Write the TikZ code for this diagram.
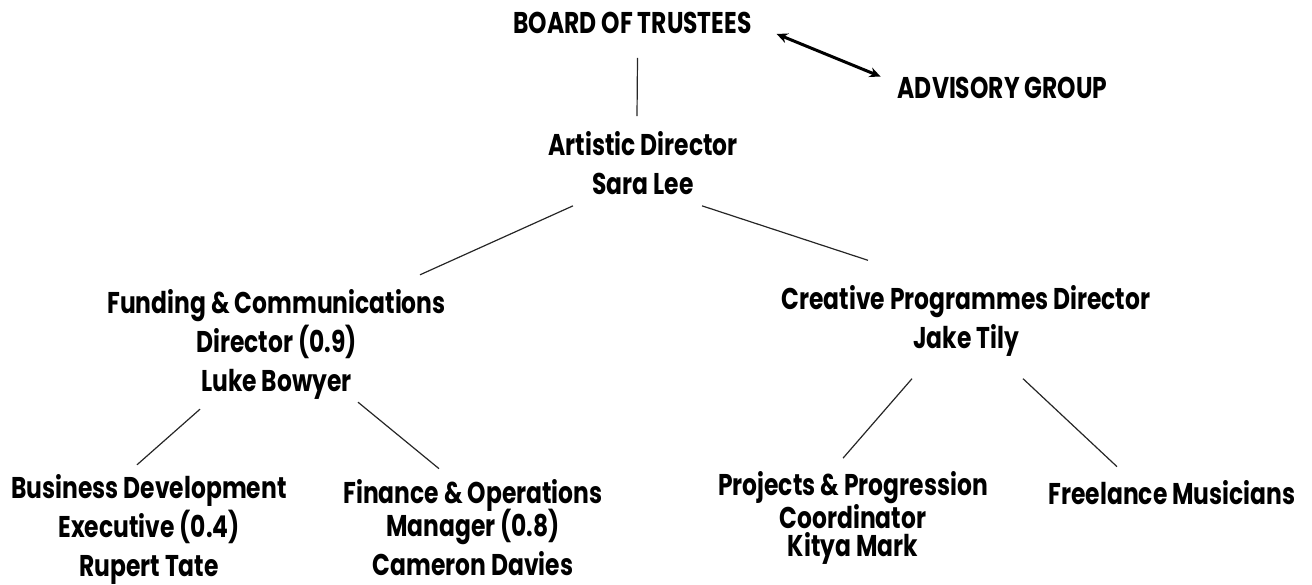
\documentclass[tikz,border=0pt]{standalone}
\usepackage{fontspec}
\setmainfont{Poppins}[FakeStretch=0.78]
\usetikzlibrary{arrows.meta}
\tikzset{
  box/.style={draw=none,inner sep=0pt,align=center,font=\bfseries\fontsize{30}{39}\selectfont},
  link/.style={-,line width=1.2pt,draw=black!85},
  twoway/.style={{Stealth[length=11pt,width=10pt]}-{Stealth[length=11pt,width=10pt]},line width=3pt}
}
\begin{document}
\begin{tikzpicture}[x=1pt,y=1pt]
\useasboundingbox (0,0) rectangle (1312,-585);
% \draw[help lines] (0,0) grid (1312,-585);
\node (board) [box] at (632.5,-23) {BOARD OF TRUSTEES};
\node (adv) [box] at (1002.5,-87.5) {ADVISORY GROUP};
\node (art) [box] at (643,-163) {Artistic Director\\Sara Lee};
\node (fund) [box] at (276.5,-344) {Funding \& Communications\\Director (0.9)\\Luke Bowyer};
\node (cre) [box] at (966,-321) {Creative Programmes Director\\Jake Tily};
\node (bus) [box] at (149,-529) {Business Development\\Executive (0.4)\\Rupert Tate};
\node (fin) [box] at (473,-528) {Finance \& Operations\\[-6pt]Manager (0.8)\\Cameron Davies};
\node (proj) [box,font=\bfseries\fontsize{30}{28}\selectfont] at (853,-518) {Projects \& Progression\\Coordinator\\Kitya Mark};
\node (free) [box] at (1172,-493) {Freelance Musicians};
%
\path[twoway] ([xshift=25pt]board.south east) edge ([xshift=-17pt]adv.north west);
\path[link] ([xshift=5pt,yshift=-24pt]board.south) edge ([xshift=-6pt,yshift=15pt]art.north);
\path[link] ([xshift=-70pt,yshift=-11pt]art.south) edge ([xshift=143.5pt,yshift=14pt]fund.north);
\path[link] ([xshift=59pt,yshift=-11pt]art.south) edge ([xshift=-98pt,yshift=25pt]cre.north);
\path[link] ([xshift=-76.5pt,yshift=-10pt]fund.south) edge ([xshift=-12pt,yshift=9pt]bus.north);
\path[link] ([xshift=81.5pt,yshift=-3pt]fund.south) edge ([xshift=-34pt,yshift=11pt]fin.north);
\path[link] ([xshift=-54pt,yshift=-22pt]cre.south) edge ([xshift=-10pt,yshift=13pt]proj.north);
\path[link] ([xshift=57pt,yshift=-22pt]cre.south) edge ([xshift=-55pt,yshift=14pt]free.north);
\end{tikzpicture}
\end{document}
